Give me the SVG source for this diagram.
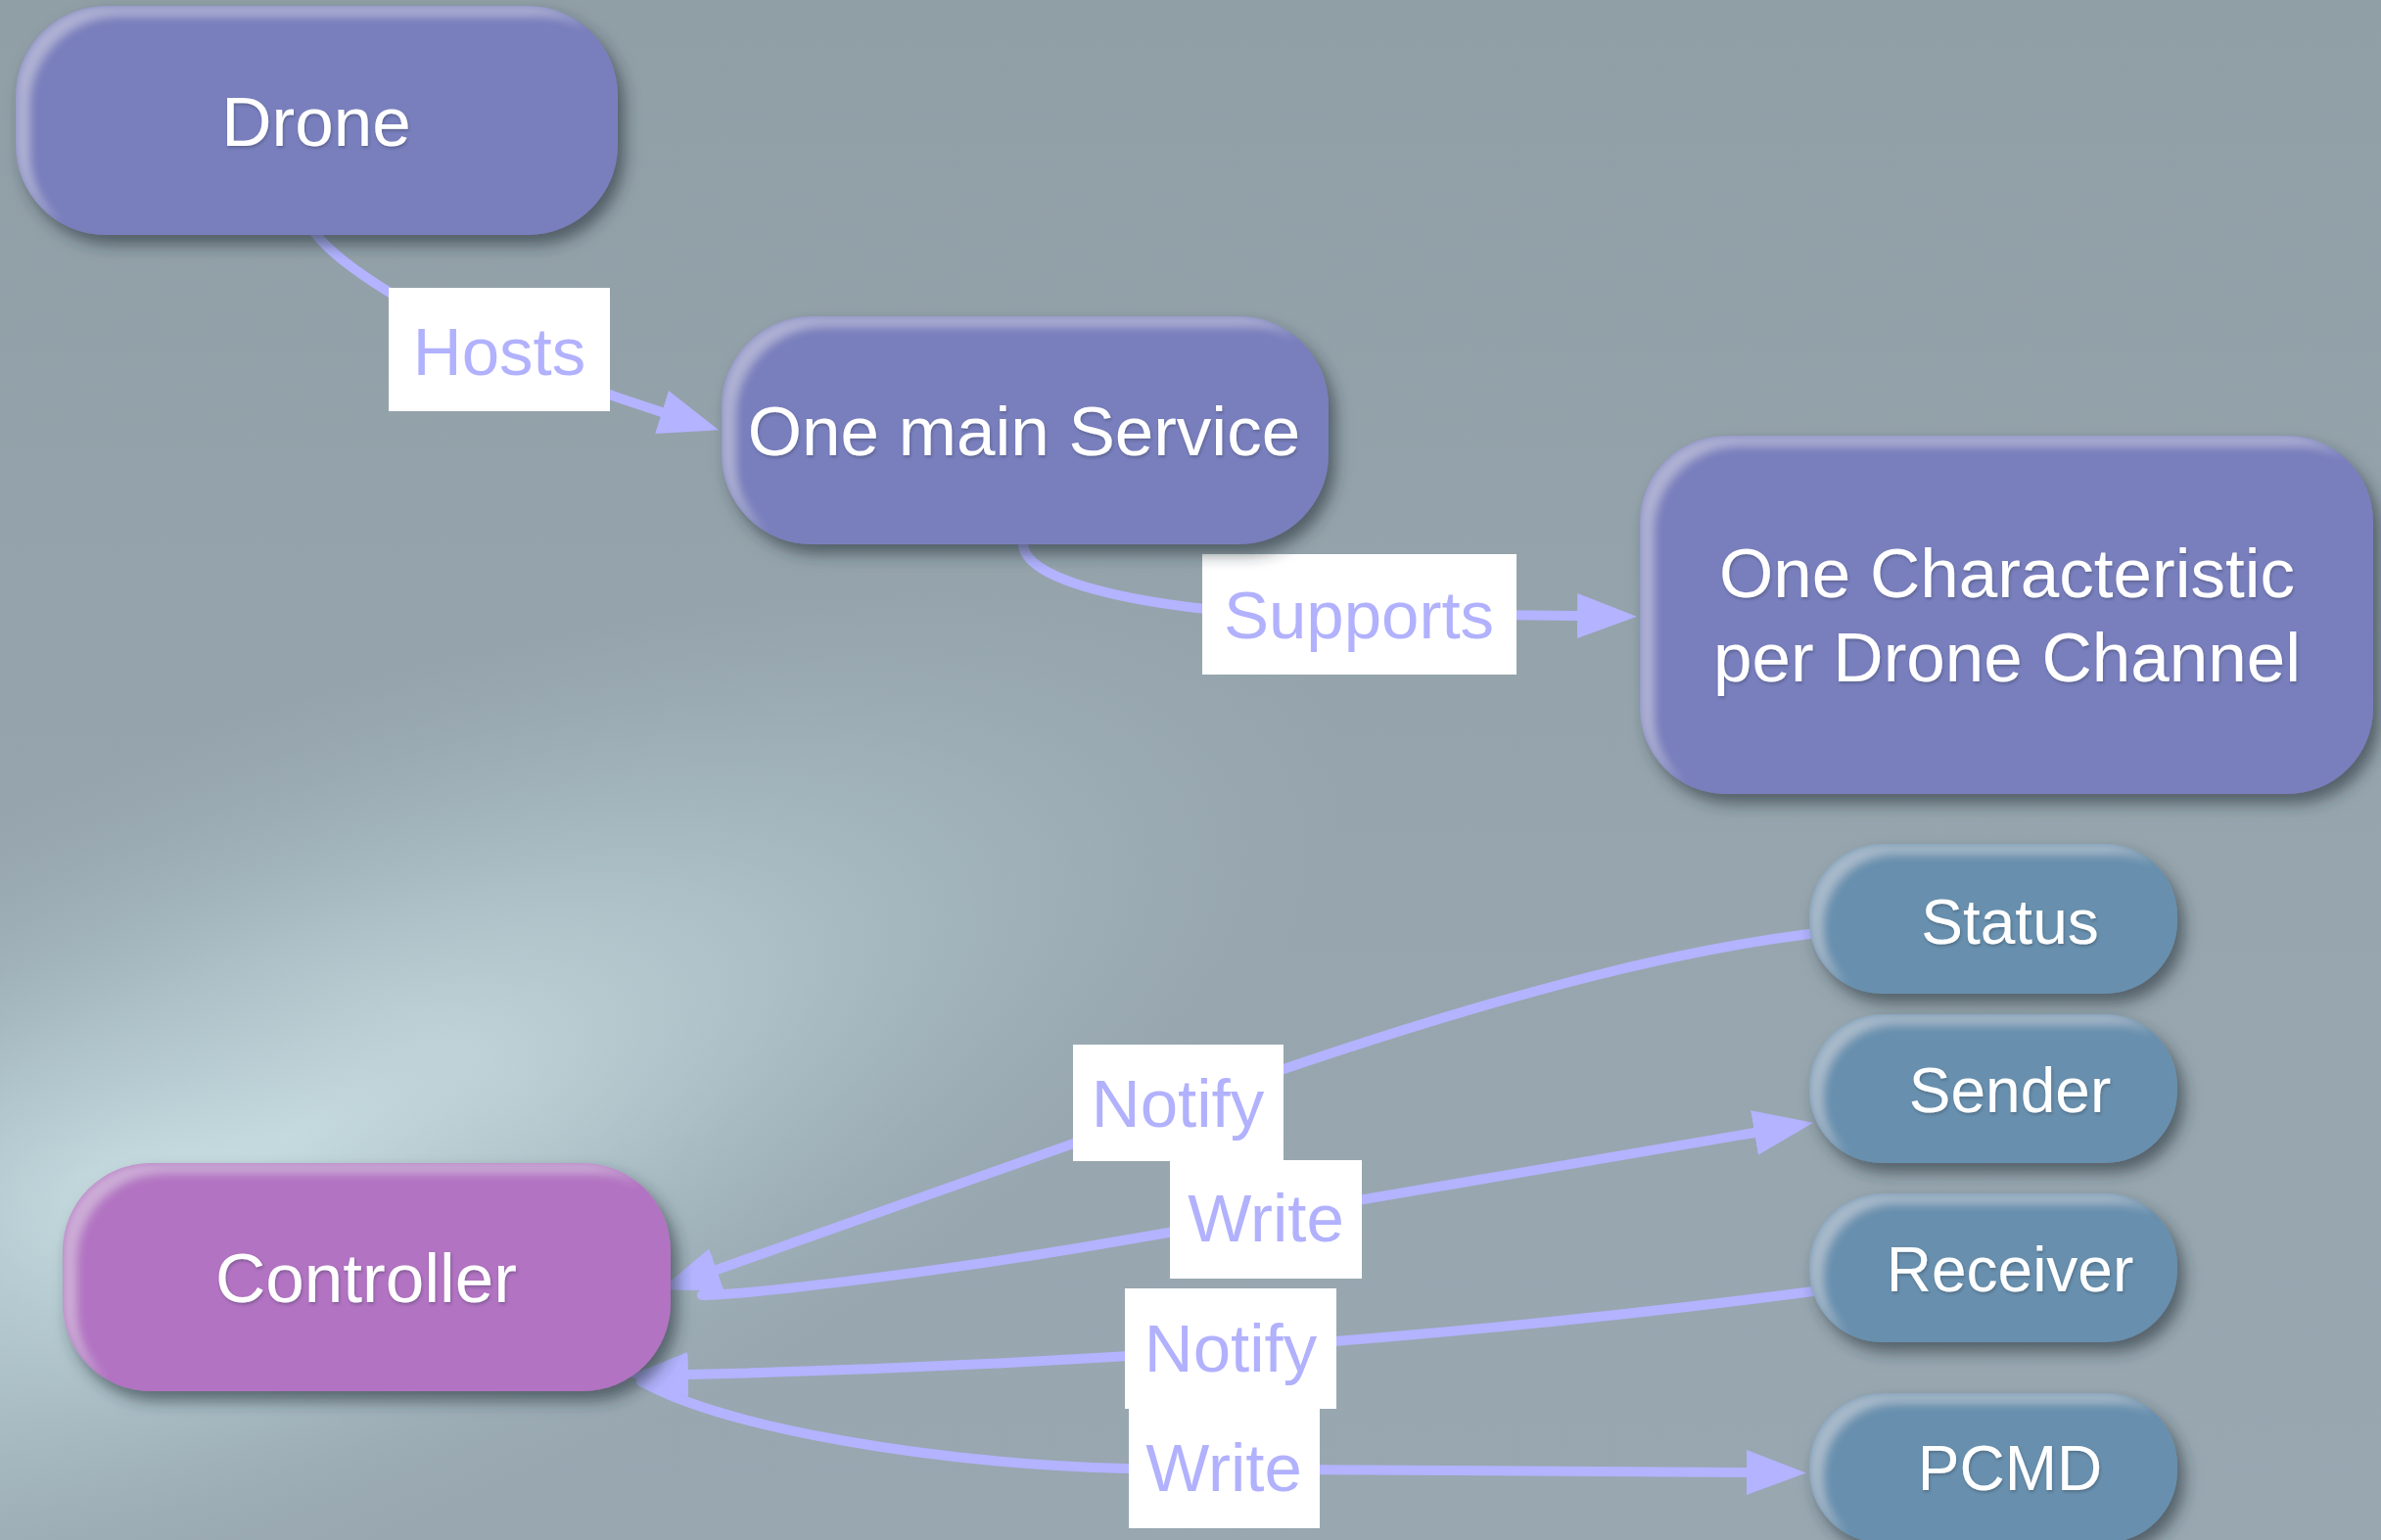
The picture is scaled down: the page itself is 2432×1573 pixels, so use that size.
<svg xmlns="http://www.w3.org/2000/svg" width="2432" height="1573" viewBox="0 0 2432 1573">
  <defs>
    <style>
      .node-text { font-family: "Liberation Sans", Arial, sans-serif; fill: #ffffff; text-anchor: middle; }
      .big { font-size: 71px; }
      .small { font-size: 64px; }
      .label-box { fill: #ffffff; }
      .label-text { font-family: "Liberation Sans", Arial, sans-serif; font-size: 69px; fill: #b1b1fd; text-anchor: middle; }
      .edge { fill: none; stroke: #b3b3ff; stroke-width: 10; stroke-linecap: round; }
      .purple { fill: #797fbd; }
      .magenta { fill: #b273c2; }
      .teal { fill: #6890ae; }
    </style>
    <radialGradient id="glow" cx="0.5" cy="0.5" r="0.5">
      <stop offset="0" stop-color="#cfe4e7" stop-opacity="0.95"/>
      <stop offset="0.45" stop-color="#b9d0d6" stop-opacity="0.6"/>
      <stop offset="1" stop-color="#a4b6bf" stop-opacity="0"/>
    </radialGradient>
    <linearGradient id="bg" x1="0" y1="0" x2="0" y2="1">
      <stop offset="0" stop-color="#909ea6"/>
      <stop offset="0.6" stop-color="#97a6ae"/>
      <stop offset="1" stop-color="#98a7b0"/>
    </linearGradient>
    <!-- soft drop shadow plus a light rim on the upper-left edges -->
    <filter id="nodeFx" x="-10%" y="-15%" width="125%" height="145%">
      <feGaussianBlur in="SourceAlpha" stdDeviation="8" result="blur"/>
      <feOffset in="blur" dx="7" dy="10" result="offBlur"/>
      <feFlood flood-color="#26323a" flood-opacity="0.6"/>
      <feComposite in2="offBlur" operator="in" result="shadow"/>
      <feOffset in="SourceAlpha" dx="14" dy="10" result="shifted"/>
      <feComposite in="SourceAlpha" in2="shifted" operator="out" result="edgeBand"/>
      <feGaussianBlur in="edgeBand" stdDeviation="5" result="edgeSoft"/>
      <feComposite in="edgeSoft" in2="SourceAlpha" operator="in" result="rim"/>
      <feFlood flood-color="#ffffff" flood-opacity="0.3"/>
      <feComposite in2="rim" operator="in" result="rimLight"/>
      <feMerge>
        <feMergeNode in="shadow"/>
        <feMergeNode in="SourceGraphic"/>
        <feMergeNode in="rimLight"/>
      </feMerge>
    </filter>
    <filter id="textFx" x="-5%" y="-20%" width="110%" height="140%">
      <feDropShadow dx="1" dy="2" stdDeviation="1.5" flood-color="#2a3040" flood-opacity="0.35"/>
    </filter>
    <marker id="arrow" markerUnits="userSpaceOnUse" markerWidth="62" markerHeight="46" refX="0" refY="23" orient="auto">
      <path d="M0,0 L61,23 L0,46 z" fill="#b3b3ff"/>
    </marker>
  </defs>

  <!-- backdrop -->
  <rect x="0" y="0" width="2432" height="1573" fill="url(#bg)"/>
  <ellipse cx="300" cy="1160" rx="1150" ry="420" fill="url(#glow)" transform="rotate(-22 300 1160)"/>
  <ellipse cx="150" cy="1230" rx="420" ry="260" fill="url(#glow)" opacity="0.7"/>

  <!-- connectors -->
  <g id="connectors">
    <path class="edge" d="M321,237 C360,290 520,372 676,421" marker-end="url(#arrow)"/>
    <path class="edge" d="M1045,555 C1045,590 1140,614 1260,625 L1611,629" marker-end="url(#arrow)"/>
    <path class="edge" d="M1848,954 C1720,970 1560,1008 1311,1092 L732,1297" marker-end="url(#arrow)"/>
    <path class="edge" d="M717,1323 C760,1323 950,1300 1100,1275 L1792,1157" marker-end="url(#arrow)"/>
    <path class="edge" d="M1852,1319 C1500,1365 1100,1395 703,1404" marker-end="url(#arrow)"/>
    <path class="edge" d="M655,1411 C740,1458 950,1495 1152,1500 L1784,1504" marker-end="url(#arrow)"/>
  </g>

  <!-- edge labels -->
  <g id="label-hosts">
    <rect class="label-box" x="397" y="294" width="226" height="126"/>
    <text class="label-text" x="510" y="383">Hosts</text>
  </g>
  <g id="label-supports">
    <rect class="label-box" x="1228" y="566" width="321" height="123"/>
    <text class="label-text" x="1388" y="652">Supports</text>
  </g>
  <g id="label-notify-status">
    <rect class="label-box" x="1096" y="1067" width="215" height="119"/>
    <text class="label-text" x="1203" y="1151">Notify</text>
  </g>
  <g id="label-write-sender">
    <rect class="label-box" x="1195" y="1185" width="196" height="121"/>
    <text class="label-text" x="1293" y="1268">Write</text>
  </g>
  <g id="label-notify-receiver">
    <rect class="label-box" x="1149" y="1316" width="216" height="123"/>
    <text class="label-text" x="1257" y="1401">Notify</text>
  </g>
  <g id="label-write-pcmd">
    <rect class="label-box" x="1153" y="1439" width="195" height="122"/>
    <text class="label-text" x="1250" y="1523">Write</text>
  </g>

  <!-- nodes -->
  <g id="drone">
    <rect class="purple" x="16" y="6" width="615" height="234" rx="92" ry="92" filter="url(#nodeFx)"/>
    <text class="node-text big" x="323" y="149" filter="url(#textFx)">Drone</text>
  </g>
  <g id="main-service">
    <rect class="purple" x="737" y="323" width="620" height="233" rx="92" ry="92" filter="url(#nodeFx)"/>
    <text class="node-text big" x="1046" y="465" filter="url(#textFx)">One main Service</text>
  </g>
  <g id="characteristic">
    <rect class="purple" x="1675" y="445" width="749" height="366" rx="88" ry="88" filter="url(#nodeFx)"/>
    <text class="node-text big" x="2050" y="610" filter="url(#textFx)">One Characteristic</text>
    <text class="node-text big" x="2050" y="696" filter="url(#textFx)">per Drone Channel</text>
  </g>
  <g id="controller">
    <rect class="magenta" x="64" y="1188" width="621" height="233" rx="90" ry="90" filter="url(#nodeFx)"/>
    <text class="node-text big" x="374" y="1330" filter="url(#textFx)">Controller</text>
  </g>
  <g id="status">
    <rect class="teal" x="1848" y="862" width="376" height="153" rx="74" ry="74" filter="url(#nodeFx)"/>
    <text class="node-text small" x="2053" y="964" filter="url(#textFx)">Status</text>
  </g>
  <g id="sender">
    <rect class="teal" x="1848" y="1036" width="376" height="152" rx="74" ry="74" filter="url(#nodeFx)"/>
    <text class="node-text small" x="2053" y="1136" filter="url(#textFx)">Sender</text>
  </g>
  <g id="receiver">
    <rect class="teal" x="1848" y="1219" width="376" height="152" rx="74" ry="74" filter="url(#nodeFx)"/>
    <text class="node-text small" x="2053" y="1319" filter="url(#textFx)">Receiver</text>
  </g>
  <g id="pcmd">
    <rect class="teal" x="1848" y="1423" width="376" height="153" rx="74" ry="74" filter="url(#nodeFx)"/>
    <text class="node-text small" x="2053" y="1522" filter="url(#textFx)">PCMD</text>
  </g>
</svg>
